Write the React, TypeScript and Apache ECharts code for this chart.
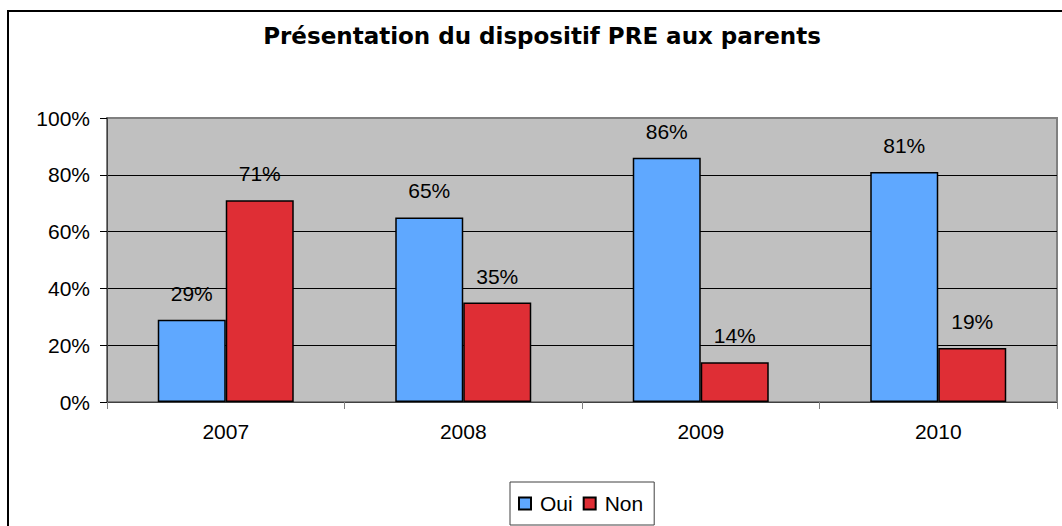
import React, { useEffect, useRef } from "react";
import * as echarts from "echarts";

const categories = ["2007", "2008", "2009", "2010"];
const ouiValues = [29, 65, 86, 81];
const nonValues = [71, 35, 14, 19];
const yTicks = [0, 20, 40, 60, 80, 100];

const FONT = "'Liberation Sans', Arial, sans-serif";

export default function App() {
  const ref = useRef<HTMLDivElement>(null);
  useEffect(() => {
    if (!ref.current) return;
    const chart = echarts.init(ref.current, null, { renderer: "svg" });
    const labelCfg = {
      show: true,
      position: "top" as const,
      distance: 16,
      formatter: "{c}%",
      color: "#000",
      fontSize: 21,
      fontFamily: FONT,
    };
    chart.setOption({
      animation: false,
      backgroundColor: "#fff",
      title: {
        text: "Présentation du dispositif PRE aux parents",
        left: 537,
        textAlign: "center",
        top: 19,
        textStyle: {
          fontFamily: "'DejaVu Sans', sans-serif",
          fontWeight: "bold",
          fontSize: 23,
          color: "#000",
        },
      },
      graphic: [
        {
          type: "rect",
          shape: { x: 8, y: 11, width: 1100, height: 600 },
          style: { fill: "none", stroke: "#000", lineWidth: 2 },
          silent: true,
        },
      ],
      legend: {
        left: 510,
        top: 482,
        orient: "horizontal",
        itemWidth: 12,
        itemHeight: 12,
        itemGap: 10,
        padding: [11, 11, 11, 8],
        borderColor: "#404040",
        borderWidth: 1,
        backgroundColor: "#fff",
        icon: "rect",
        textStyle: {
          fontFamily: FONT,
          fontSize: 21,
          color: "#000",
          padding: [0, 0, 0, 4],
        },
        data: ["Oui", "Non"],
      },
      grid: {
        left: 107,
        top: 118,
        right: 5,
        bottom: 124,
        show: true,
        backgroundColor: "#C0C0C0",
        borderColor: "#808080",
        borderWidth: 2,
      },
      xAxis: {
        type: "category",
        data: categories,
        axisLine: { show: true, lineStyle: { color: "#404040", width: 1 } },
        axisTick: { show: true, length: 7, lineStyle: { color: "#808080" } },
        axisLabel: { fontFamily: FONT, fontSize: 21, color: "#000", margin: 19 },
        splitLine: { show: false },
      },
      yAxis: {
        type: "value",
        min: yTicks[0],
        max: yTicks[yTicks.length - 1],
        interval: 20,
        axisLine: { show: true, lineStyle: { color: "#404040", width: 1 } },
        axisTick: { show: true, length: 7, lineStyle: { color: "#000" } },
        axisLabel: {
          fontFamily: FONT,
          fontSize: 21,
          color: "#000",
          margin: 17,
          formatter: "{value}%",
        },
        splitLine: { show: true, showMaxLine: false, lineStyle: { color: "#000", width: 1 } },
      },
      series: [
        {
          name: "Oui",
          type: "bar",
          data: ouiValues,
          barWidth: 68,
          barGap: "0%",
          itemStyle: { color: "#5FA8FF", borderColor: "#000", borderWidth: 1.5 },
          label: labelCfg,
        },
        {
          name: "Non",
          type: "bar",
          data: nonValues,
          barWidth: 68,
          barGap: "0%",
          itemStyle: { color: "#DF2E35", borderColor: "#000", borderWidth: 1.5 },
          label: labelCfg,
        },
      ],
    });
    return () => chart.dispose();
  }, []);
  return (
    <div
      ref={ref}
      style={{ position: "absolute", left: 0, top: 0, width: 1062, height: 526 }}
    />
  );
}
